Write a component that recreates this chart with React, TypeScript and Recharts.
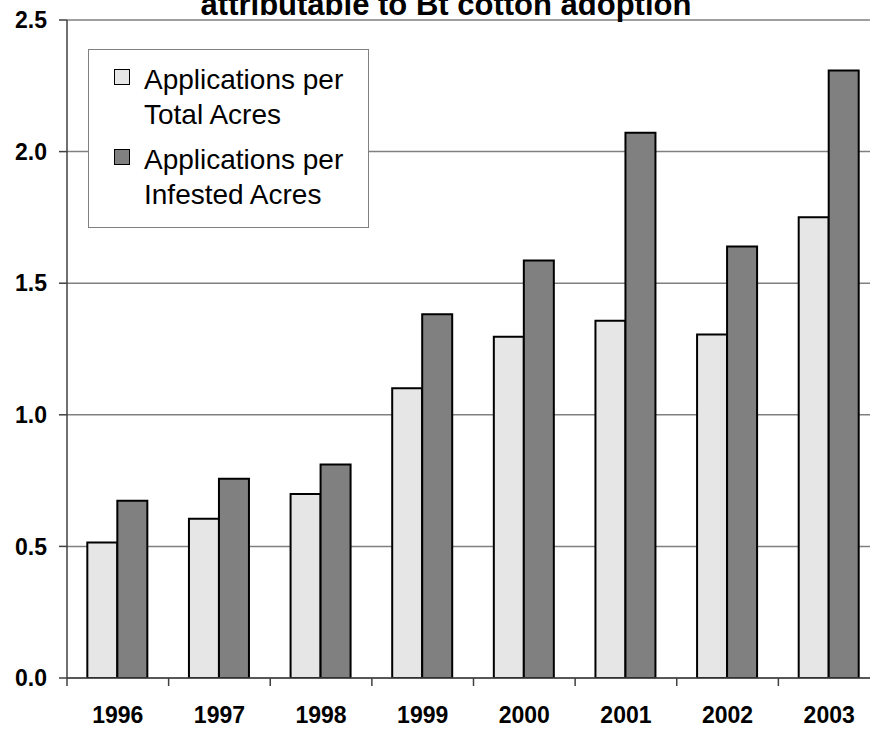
import { Bar, BarChart, CartesianGrid, Legend, XAxis, YAxis } from 'recharts'

const years = ['1996', '1997', '1998', '1999', '2000', '2001', '2002', '2003']
const perTotalAcres = [0.515, 0.605, 0.699, 1.101, 1.297, 1.357, 1.305, 1.751]
const perInfestedAcres = [0.673, 0.757, 0.811, 1.382, 1.586, 2.072, 1.639, 2.308]
const yTicks = [0, 0.5, 1, 1.5, 2, 2.5]

const titleText = 'attributable to Bt cotton adoption'
const seriesNames = ['Applications per Total Acres', 'Applications per Infested Acres']

const data = years.map((year, i) => ({
  year,
  total: perTotalAcres[i],
  infested: perInfestedAcres[i],
}))

const font = 'Arial, "Liberation Sans", sans-serif'
const lightFill = '#e6e6e6'
const darkFill = '#808080'

function YearTick(props: any) {
  const { x, y, payload } = props
  const half = payload?.offset ?? 50.8
  return (
    <g>
      <line x1={x - half} x2={x - half} y1={y} y2={y + 8} stroke="#404040" strokeWidth={1.5} />
      <text
        x={x}
        y={y + 45}
        textAnchor="middle"
        fontFamily={font}
        fontWeight="bold"
        fontSize={23}
        fill="#000"
      >
        {payload.value}
      </text>
    </g>
  )
}

function LegendBox() {
  const items = [
    { fill: lightFill, lines: ['Applications per', 'Total Acres'] },
    { fill: darkFill, lines: ['Applications per', 'Infested Acres'] },
  ]
  return (
    <div
      style={{
        width: 279,
        height: 177,
        border: '1px solid #808080',
        background: '#fff',
        fontFamily: font,
        fontSize: 28,
        color: '#000',
        position: 'relative',
      }}
    >
      {items.map((item, i) => (
        <div
          key={item.lines[1]}
          style={{ position: 'absolute', left: 25, top: 12 + i * 80, display: 'flex' }}
        >
          <span
            style={{
              width: 14,
              height: 14,
              marginTop: 7,
              border: '1.5px solid #000',
              background: item.fill,
              display: 'inline-block',
            }}
          />
          <div style={{ marginLeft: 14, lineHeight: '35px' }} title={seriesNames[i]}>
            <div>{item.lines[0]}</div>
            <div>{item.lines[1]}</div>
          </div>
        </div>
      ))}
    </div>
  )
}

export default function App() {
  return (
    <div
      style={{
        position: 'fixed',
        left: 0,
        top: 0,
        width: 870,
        height: 729,
        overflow: 'hidden',
        background: '#fff',
      }}
    >
      <div
        style={{
          position: 'absolute',
          left: 0,
          width: 892,
          top: -11,
          textAlign: 'center',
          fontFamily: font,
          fontWeight: 'bold',
          fontSize: 31,
          lineHeight: '31px',
          whiteSpace: 'nowrap',
          zIndex: 2,
        }}
      >
        {titleText}
      </div>
      <BarChart
        width={900}
        height={729}
        data={data}
        margin={{ top: 20, right: 20, left: 0, bottom: 0 }}
        barCategoryGap="20%"
        barGap={0}
      >
        <CartesianGrid vertical={false} stroke="#808080" strokeWidth={1.5} />
        <XAxis
          dataKey="year"
          height={51}
          tickLine={false}
          tickSize={0}
          tickMargin={0}
          axisLine={{ stroke: '#404040', strokeWidth: 1.5 }}
          tick={<YearTick />}
          interval={0}
        />
        <YAxis
          width={67}
          domain={[0, 2.5]}
          ticks={yTicks}
          tickFormatter={(v: number) => v.toFixed(1)}
          tickSize={8}
          tickMargin={12}
          tickLine={{ stroke: '#404040', strokeWidth: 1.5 }}
          axisLine={{ stroke: '#404040', strokeWidth: 1.5 }}
          tick={{ fontFamily: font, fontWeight: 'bold', fontSize: 23, fill: '#000' }}
          allowDataOverflow
        />
        <Legend
          layout="horizontal"
          verticalAlign="middle"
          align="center"
          content={<LegendBox />}
          wrapperStyle={{ left: 88, top: 49, width: 281, height: 179 }}
        />
        <Bar
          dataKey="total"
          name={seriesNames[0]}
          fill={lightFill}
          stroke="#000"
          strokeWidth={2}
          isAnimationActive={false}
        />
        <Bar
          dataKey="infested"
          name={seriesNames[1]}
          fill={darkFill}
          stroke="#000"
          strokeWidth={2}
          isAnimationActive={false}
        />
      </BarChart>
    </div>
  )
}
